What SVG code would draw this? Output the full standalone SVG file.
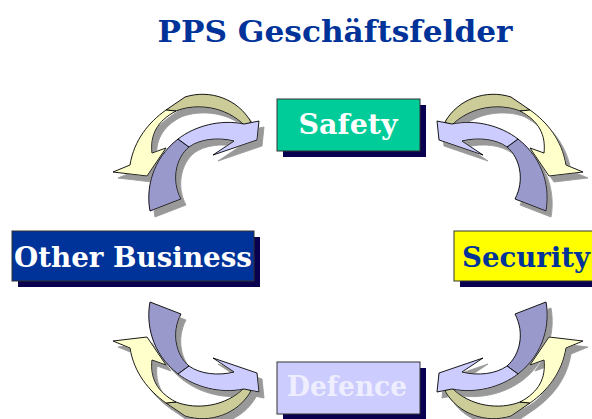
<svg xmlns="http://www.w3.org/2000/svg" xmlns:xlink="http://www.w3.org/1999/xlink" width="592" height="419" viewBox="0 0 592 419">
<style>
.box{stroke:#333;stroke-width:1}
.shd{fill:#0a0050}
.lbl{font-family:"DejaVu Serif","Liberation Serif",serif;font-weight:bold;font-size:27px;text-anchor:middle}
.title{font-family:"DejaVu Serif","Liberation Serif",serif;font-weight:bold;font-size:29px;fill:#003399;text-anchor:middle}
.a path{stroke:#000;stroke-width:0.9;stroke-linejoin:round}
.khaki{fill:#cccc99}.yel{fill:#ffffcc}.lavd{fill:#9999cc}.lav{fill:#ccccff}
</style>
<defs>
<filter id="sh" x="-20%" y="-20%" width="140%" height="140%">
<feOffset in="SourceAlpha" dx="5" dy="6" result="o"/>
<feFlood flood-color="#999999"/>
<feComposite in2="o" operator="in" result="s"/>
<feMerge><feMergeNode in="s"/><feMergeNode in="SourceGraphic"/></feMerge>
</filter>
<g id="pair" class="a">
<path class="khaki" d="M251,122 C238,99 210,89 185,97 L166,110 L176,111 C196,103 226,106 245,126 Z"/>
<path class="yel" d="M166,110 C149,122 134,140 130,165 L113,172 L147,176 L166,148 L152,153 C150,135 157,121 176,111 Z"/>
<path class="lavd" d="M150,211 C146,190 151,160 178,139 L189,147 C176,158 171,180 181,199 Z"/>
<path class="lav" d="M178,139 C195,126 220,119 244,124 L259,121 L257,140 L213,155 L234,141 C218,137 200,139 189,147 Z"/>
</g>
</defs>
<text class="title" x="335" y="42" textLength="355" lengthAdjust="spacingAndGlyphs">PPS Geschäftsfelder</text>
<g id="connectors">
<g filter="url(#sh)"><use xlink:href="#pair"/></g>
<g filter="url(#sh)"><use xlink:href="#pair" transform="translate(696,0) scale(-1,1)"/></g>
<g filter="url(#sh)"><use xlink:href="#pair" transform="translate(0,513) scale(1,-1)"/></g>
<g filter="url(#sh)"><use xlink:href="#pair" transform="translate(696,513) scale(-1,-1)"/></g>
</g>
<g id="safety">
<rect class="shd" x="283" y="105" width="143" height="52"/>
<rect class="box" x="277" y="99" width="143" height="52" fill="#00cc99"/>
<text class="lbl" x="348" y="134" fill="#ffffff" textLength="99" lengthAdjust="spacingAndGlyphs">Safety</text>
</g>
<g id="other-business">
<rect class="shd" x="18" y="237" width="242" height="50"/>
<rect class="box" x="12" y="231" width="242" height="50" fill="#003399"/>
<text class="lbl" x="133" y="267" fill="#ffffff" textLength="238" lengthAdjust="spacingAndGlyphs">Other Business</text>
</g>
<g id="security">
<rect class="shd" x="460" y="237" width="143" height="50"/>
<rect class="box" x="454" y="231" width="143" height="50" fill="#ffff00"/>
<text class="lbl" x="526" y="267" fill="#003399" textLength="128" lengthAdjust="spacingAndGlyphs">Security</text>
</g>
<g id="defence">
<rect class="shd" x="283" y="368" width="143" height="52"/>
<rect class="box" x="277" y="362" width="143" height="52" fill="#ccccff"/>
<text class="lbl" x="347" y="396" fill="#eeeeff" textLength="120" lengthAdjust="spacingAndGlyphs">Defence</text>
</g>
</svg>
